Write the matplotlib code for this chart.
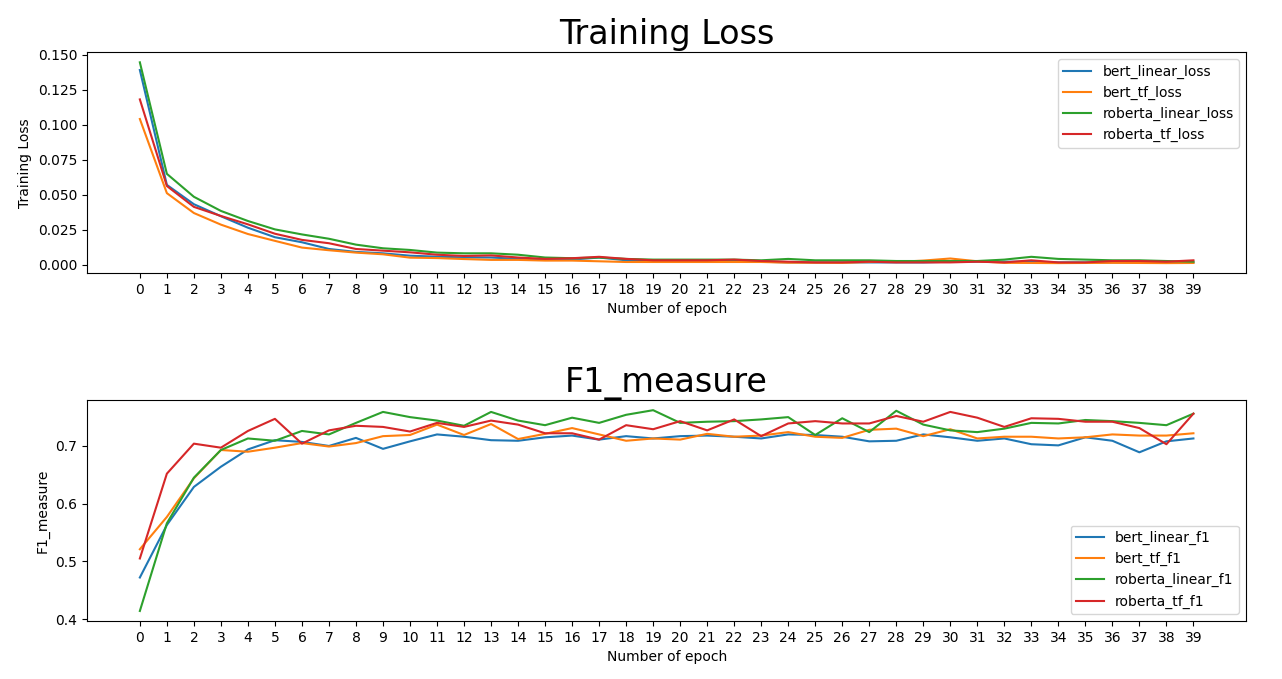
import numpy as np
import matplotlib
matplotlib.use('Agg')
import matplotlib.pyplot as plt

epochs = list(range(40))

# training loss per epoch
bert_linear_loss = [0.1390, 0.0569, 0.0431, 0.0345, 0.0263, 0.0195, 0.0159, 0.0111, 0.0090, 0.0080,
                    0.0063, 0.0056, 0.0051, 0.0050, 0.0040, 0.0035, 0.0035, 0.0050, 0.0030, 0.0025,
                    0.0025, 0.0025, 0.0025, 0.0020, 0.0015, 0.0015, 0.0015, 0.0015, 0.0015, 0.0015,
                    0.0020, 0.0020, 0.0020, 0.0020, 0.0015, 0.0015, 0.0015, 0.0015, 0.0015, 0.0015]
bert_tf_loss = [0.1040, 0.0510, 0.0368, 0.0285, 0.0218, 0.0169, 0.0121, 0.0102, 0.0085, 0.0073,
                0.0049, 0.0046, 0.0039, 0.0033, 0.0033, 0.0028, 0.0028, 0.0023, 0.0018, 0.0018,
                0.0018, 0.0018, 0.0018, 0.0018, 0.0013, 0.0013, 0.0012, 0.0018, 0.0018, 0.0028,
                0.0043, 0.0023, 0.0012, 0.0011, 0.0010, 0.0011, 0.0012, 0.0011, 0.0010, 0.0011]
roberta_linear_loss = [0.1445, 0.0648, 0.0484, 0.0383, 0.0311, 0.0251, 0.0215, 0.0184, 0.0142, 0.0116,
                       0.0104, 0.0085, 0.0080, 0.0080, 0.0070, 0.0050, 0.0045, 0.0050, 0.0040, 0.0035,
                       0.0035, 0.0035, 0.0035, 0.0030, 0.0040, 0.0030, 0.0030, 0.0030, 0.0025, 0.0025,
                       0.0025, 0.0025, 0.0035, 0.0055, 0.0040, 0.0035, 0.0030, 0.0030, 0.0025, 0.0020]
roberta_tf_loss = [0.1180, 0.0561, 0.0412, 0.0347, 0.0287, 0.0220, 0.0176, 0.0152, 0.0111, 0.0099,
                   0.0087, 0.0070, 0.0061, 0.0065, 0.0050, 0.0040, 0.0045, 0.0055, 0.0040, 0.0030,
                   0.0030, 0.0030, 0.0035, 0.0025, 0.0020, 0.0015, 0.0015, 0.0020, 0.0015, 0.0015,
                   0.0015, 0.0020, 0.0015, 0.0030, 0.0015, 0.0015, 0.0025, 0.0025, 0.0020, 0.0030]

# f1 per epoch
bert_linear_f1 = [0.472, 0.563, 0.629, 0.664, 0.694, 0.710, 0.707, 0.700, 0.714, 0.695,
                  0.708, 0.720, 0.716, 0.710, 0.709, 0.715, 0.718, 0.711, 0.717, 0.713,
                  0.717, 0.718, 0.716, 0.713, 0.720, 0.719, 0.716, 0.708, 0.709, 0.720,
                  0.715, 0.709, 0.713, 0.703, 0.701, 0.715, 0.709, 0.689, 0.708, 0.713]
bert_tf_f1 = [0.521, 0.577, 0.644, 0.693, 0.690, 0.697, 0.705, 0.699, 0.705, 0.717,
              0.719, 0.737, 0.719, 0.738, 0.712, 0.721, 0.731, 0.720, 0.709, 0.713,
              0.711, 0.721, 0.716, 0.718, 0.724, 0.716, 0.714, 0.728, 0.730, 0.717,
              0.729, 0.713, 0.716, 0.716, 0.713, 0.715, 0.720, 0.718, 0.718, 0.722]
roberta_linear_f1 = [0.414, 0.566, 0.645, 0.693, 0.713, 0.709, 0.726, 0.720, 0.740, 0.759,
                     0.750, 0.744, 0.735, 0.759, 0.744, 0.736, 0.749, 0.740, 0.754, 0.762,
                     0.740, 0.742, 0.743, 0.746, 0.750, 0.719, 0.748, 0.724, 0.761, 0.737,
                     0.727, 0.724, 0.730, 0.740, 0.739, 0.745, 0.743, 0.740, 0.736, 0.756]
roberta_tf_f1 = [0.505, 0.652, 0.704, 0.697, 0.726, 0.747, 0.704, 0.727, 0.735, 0.733,
                 0.725, 0.740, 0.733, 0.744, 0.737, 0.722, 0.722, 0.711, 0.736, 0.729,
                 0.743, 0.727, 0.746, 0.717, 0.739, 0.743, 0.739, 0.739, 0.752, 0.742,
                 0.759, 0.749, 0.733, 0.748, 0.747, 0.742, 0.742, 0.731, 0.703, 0.756]

fig, (ax1, ax2) = plt.subplots(2, 1, figsize=(12.82, 6.79), dpi=100)
plt.subplots_adjust(left=0.068, right=0.972, top=0.923, bottom=0.0854, hspace=0.575)

ax1.plot(epochs, bert_linear_loss, label='bert_linear_loss')
ax1.plot(epochs, bert_tf_loss, label='bert_tf_loss')
ax1.plot(epochs, roberta_linear_loss, label='roberta_linear_loss')
ax1.plot(epochs, roberta_tf_loss, label='roberta_tf_loss')
ax1.set_title('Training Loss', fontsize=24)
ax1.set_xlabel('Number of epoch')
ax1.set_ylabel('Training Loss')
ax1.set_xticks(epochs)
ax1.legend(loc='upper right')

ax2.plot(epochs, bert_linear_f1, label='bert_linear_f1')
ax2.plot(epochs, bert_tf_f1, label='bert_tf_f1')
ax2.plot(epochs, roberta_linear_f1, label='roberta_linear_f1')
ax2.plot(epochs, roberta_tf_f1, label='roberta_tf_f1')
ax2.set_title('F1_measure', fontsize=24)
ax2.set_xlabel('Number of epoch')
ax2.set_ylabel('F1_measure')
ax2.set_xticks(epochs)
ax2.legend(loc='lower right')

plt.savefig('out.png')
